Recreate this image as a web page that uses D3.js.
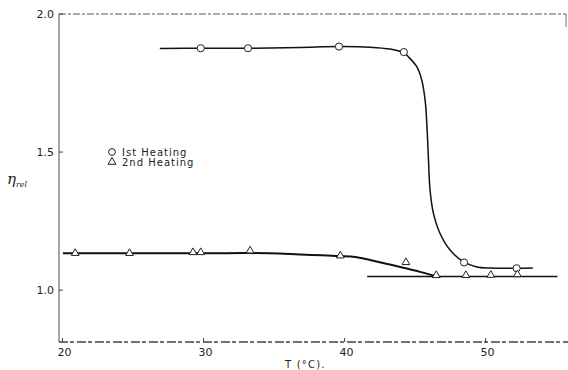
<!DOCTYPE html>
<html>
<head>
<meta charset="utf-8">
<script src="https://cdn.jsdelivr.net/npm/d3@7"></script>
<style>
  body { margin: 0; background: #fff; }
  text { font-family: "DejaVu Sans", sans-serif; fill: #222; }
</style>
</head>
<body>
<svg width="568" height="370"></svg>
<script>
// measured points
const heat1T   = [29.8, 33.15, 39.6, 44.2, 48.47, 52.2];
const heat1Eta = [1.876, 1.876, 1.882, 1.862, 1.100, 1.079];
const heat2T   = [20.9, 24.75, 29.25, 29.8, 33.3, 39.7, 44.35, 46.5, 48.6, 50.37, 52.25];
const heat2Eta = [1.130, 1.130, 1.133, 1.133, 1.139, 1.121, 1.097, 1.050, 1.050, 1.051, 1.053];

// drawn curves
const curve1T   = [26.9, 29.82, 33.15, 36.84, 39.61, 41.81, 43.23, 44.22, 44.52, 45.12, 45.47, 45.71, 45.83, 45.94, 46.06, 46.3, 46.77, 47.48, 48.42, 49.37, 50.32, 52.21, 53.35];
const curve1Eta = [1.875, 1.876, 1.876, 1.879, 1.882, 1.880, 1.873, 1.859, 1.845, 1.809, 1.761, 1.688, 1.604, 1.483, 1.362, 1.278, 1.205, 1.145, 1.103, 1.084, 1.080, 1.079, 1.080];
const curve2T   = [20.03, 29.75, 33.3, 36.84, 39.68, 40.74, 41.81, 44.17, 45.35, 46.49];
const curve2Eta = [1.133, 1.133, 1.134, 1.129, 1.123, 1.120, 1.109, 1.081, 1.066, 1.050];
const baseT   = [41.6, 55.1];
const baseEta = [1.049, 1.049];

const xTicks = [20, 30, 40, 50];
const yTicks = [1.0, 1.5, 2.0];
const legendLabels = ["Ist Heating", "2nd Heating"];

const svg = d3.select("svg");
const x = d3.scaleLinear().domain([19.75, 55.7]).range([59, 566]);
const y = d3.scaleLinear().domain([0.812, 2.0]).range([342, 14]);

const zip = (a, b) => a.map((v, i) => [v, b[i]]);

// frame
svg.append("line").attr("x1", 59).attr("x2", 59).attr("y1", 14).attr("y2", 342)
  .attr("stroke", "#777").attr("stroke-width", 1.3);
svg.append("line").attr("x1", 59).attr("x2", 566).attr("y1", 14).attr("y2", 14)
  .attr("stroke", "#555").attr("stroke-width", 1.2).attr("stroke-dasharray", "7,2,3,2");
svg.append("line").attr("x1", 566).attr("x2", 566).attr("y1", 14).attr("y2", 27)
  .attr("stroke", "#777").attr("stroke-width", 1);
svg.append("line").attr("x1", 59).attr("x2", 568).attr("y1", 342).attr("y2", 342)
  .attr("stroke", "#444").attr("stroke-width", 1.3).attr("stroke-dasharray", "9,2,4,3");

// ticks
const gy = svg.append("g");
gy.selectAll("line").data(yTicks).enter().append("line")
  .attr("x1", 59).attr("x2", 63).attr("y1", d => y(d)).attr("y2", d => y(d))
  .attr("stroke", "#444");
gy.selectAll("text").data(yTicks).enter().append("text")
  .attr("x", 54).attr("y", d => y(d) + 4)
  .attr("text-anchor", "end").style("font-size", "11px")
  .text(d => d.toFixed(1));

const gx = svg.append("g");
gx.selectAll("line").data(xTicks).enter().append("line")
  .attr("x1", d => x(d)).attr("x2", d => x(d)).attr("y1", 342).attr("y2", 338)
  .attr("stroke", "#444");
gx.selectAll("text").data(xTicks).enter().append("text")
  .attr("x", d => x(d) + 2).attr("y", 356)
  .attr("text-anchor", "middle").style("font-size", "11px")
  .text(d => d);

// axis titles
svg.append("text").attr("x", 285).attr("y", 368).style("font-size", "10px")
  .style("letter-spacing", "1.2px").text("T (°C).");
const yl = svg.append("text").attr("x", 7).attr("y", 184)
  .style("font-size", "15px").style("font-style", "italic").style("font-family", "DejaVu Serif, serif");
yl.append("tspan").text("η");
yl.append("tspan").attr("dy", 3).style("font-size", "8px").text("rel");

// curves
const smooth = d3.line().x(d => x(d[0])).y(d => y(d[1])).curve(d3.curveCatmullRom.alpha(0.5));
const line = d3.line().x(d => x(d[0])).y(d => y(d[1])).curve(d3.curveMonotoneX);
svg.append("path").datum(zip(curve1T, curve1Eta)).attr("d", smooth)
  .attr("fill", "none").attr("stroke", "#111").attr("stroke-width", 1.5);
svg.append("path").datum(zip(curve2T, curve2Eta)).attr("d", line)
  .attr("fill", "none").attr("stroke", "#111").attr("stroke-width", 2);
svg.append("path").datum(zip(baseT, baseEta)).attr("d", d3.line().x(d => x(d[0])).y(d => y(d[1])))
  .attr("fill", "none").attr("stroke", "#111").attr("stroke-width", 1.6);

// markers
svg.append("g").selectAll("circle").data(zip(heat1T, heat1Eta)).enter().append("circle")
  .attr("cx", d => x(d[0])).attr("cy", d => y(d[1])).attr("r", 3.6)
  .attr("fill", "#fff").attr("stroke", "#222").attr("stroke-width", 1);
const tri = d3.symbol().type(d3.symbolTriangle).size(26);
svg.append("g").selectAll("path").data(zip(heat2T, heat2Eta)).enter().append("path")
  .attr("d", tri).attr("transform", d => `translate(${x(d[0])},${y(d[1]) - 1})`)
  .attr("fill", "#fff").attr("stroke", "#222").attr("stroke-width", 1);

// legend
const lg = svg.append("g");
lg.append("circle").attr("cx", 112).attr("cy", 152).attr("r", 3.4)
  .attr("fill", "#fff").attr("stroke", "#222");
lg.append("path").attr("d", tri).attr("transform", "translate(112,162)")
  .attr("fill", "#fff").attr("stroke", "#222");
lg.selectAll("text").data(legendLabels).enter().append("text")
  .attr("x", 122).attr("y", (d, i) => 156 + i * 10)
  .style("font-size", "10px").style("letter-spacing", "1px")
  .text(d => d);
</script>
</body>
</html>
